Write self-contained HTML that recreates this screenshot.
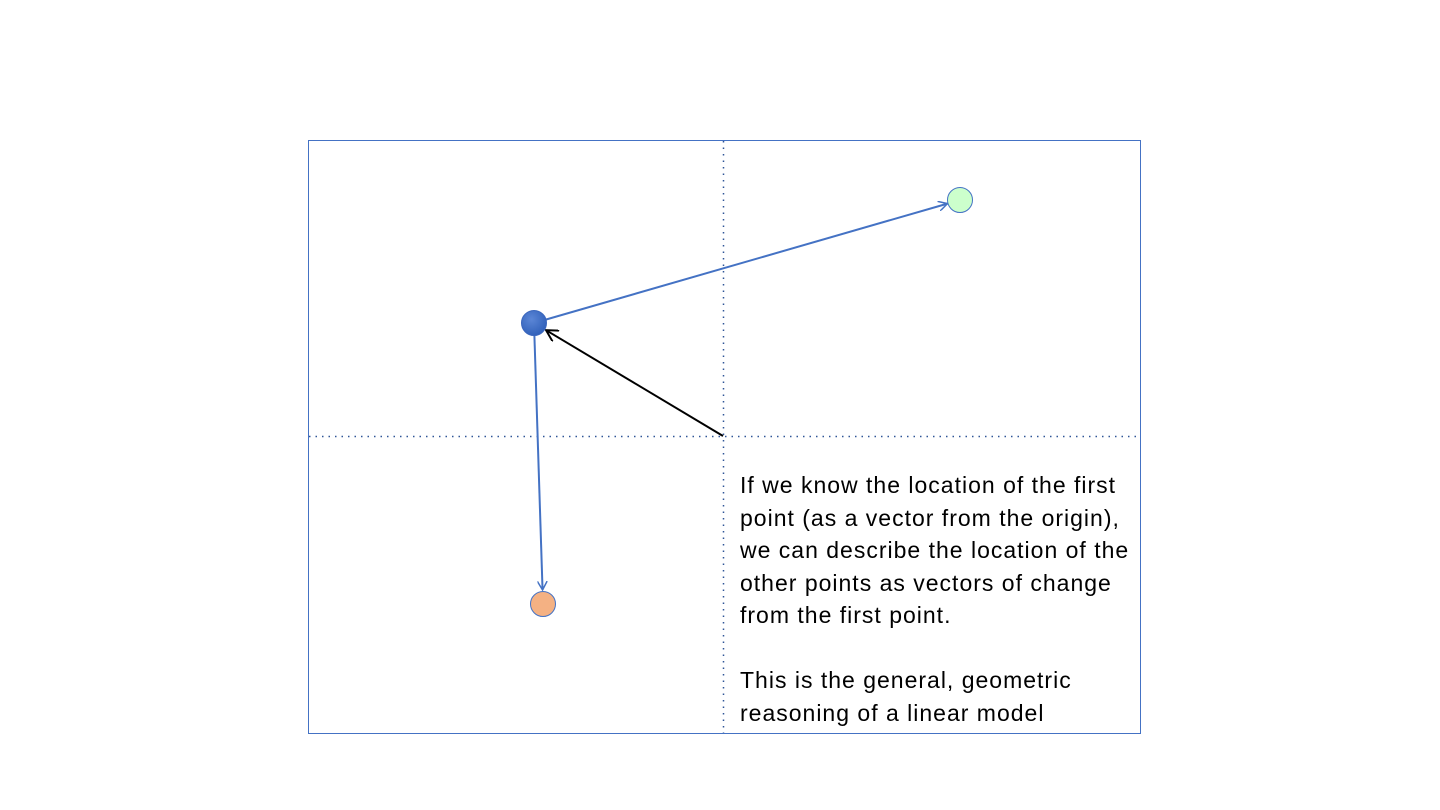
<!DOCTYPE html>
<html><head><meta charset="utf-8"><style>
html,body{margin:0;padding:0;background:#fff;width:1440px;height:810px;overflow:hidden}
svg{position:absolute;left:0;top:0}
.txt{position:absolute;left:740px;top:469px;font-family:"Liberation Sans",sans-serif;font-size:23px;letter-spacing:1px;line-height:32.5px;color:#000;white-space:nowrap}
</style></head><body>
<svg width="1440" height="810" id="chart">
<defs>
<marker id="ab" viewBox="0 0 10 10" refX="9" refY="5" markerWidth="10" markerHeight="10" markerUnits="userSpaceOnUse" orient="auto"><path d="M0,0 L9,5 L0,10" fill="none" stroke="#4472c4" stroke-width="1.5"/></marker>
<marker id="ak" viewBox="0 0 10 10" refX="9" refY="5" markerWidth="13" markerHeight="13" markerUnits="userSpaceOnUse" orient="auto"><path d="M0,0 L9,5 L0,10" fill="none" stroke="#000" stroke-width="1.5"/></marker>
<radialGradient id="gb" cx="0.4" cy="0.35" r="0.7"><stop offset="0" stop-color="#5b86d6"/><stop offset="1" stop-color="#2f5fb8"/></radialGradient>
</defs>
<rect x="308.5" y="140.5" width="832" height="593" fill="none" stroke="#4472c4" stroke-width="1"/>
<line x1="723.5" y1="141" x2="723.5" y2="733" stroke="#2f5597" stroke-width="1.5" stroke-dasharray="1.5,5"/>
<line x1="309" y1="436.5" x2="1140" y2="436.5" stroke="#2f5597" stroke-width="1.5" stroke-dasharray="1.5,5"/>
<g id="marks"></g>
</svg>
<div class="txt">If we know the location of the first<br>point (as a vector from the origin),<br>we can describe the location of the<br>other points as vectors of change<br>from the first point.<br><br>This is the general, geometric<br>reasoning of a linear model</div>
<script>
const pointNames = ["first","second","third"];
const pointX = [534, 960, 543];
const pointY = [323, 200, 604];
const pointFill = ["url(#gb)", "#ccffcc", "#f4b183"];
const originX = 723, originY = 436;
const ns = "http://www.w3.org/2000/svg";
const g = document.getElementById("marks");
function line(x1,y1,x2,y2,r,stroke,mk,name){
  const dx=x2-x1, dy=y2-y1, L=Math.hypot(dx,dy);
  const l=document.createElementNS(ns,"line");
  l.setAttribute("x1",x1);l.setAttribute("y1",y1);
  l.setAttribute("x2",x2-dx/L*r);l.setAttribute("y2",y2-dy/L*r);
  l.setAttribute("stroke",stroke);l.setAttribute("stroke-width","2");
  l.setAttribute("marker-end","url(#"+mk+")");
  
  
  g.appendChild(l);
}
line(originX,originY,pointX[0],pointY[0],14,"#000","ak","origin-vector-arrow");
line(pointX[0],pointY[0],pointX[1],pointY[1],13,"#4472c4","ab","change-vector-green");
line(pointX[0],pointY[0],pointX[2],pointY[2],14,"#4472c4","ab","change-vector-orange");
for(let i=0;i<pointX.length;i++){
  const c=document.createElementNS(ns,"circle");
  c.setAttribute("cx",pointX[i]);c.setAttribute("cy",pointY[i]);
  c.setAttribute("r",12.5);c.setAttribute("fill",pointFill[i]);
  c.setAttribute("stroke",i==0?"#3a66bd":"#4472c4");c.setAttribute("stroke-width","1");
  
  
  g.appendChild(c);
}
</script>
</body></html>
